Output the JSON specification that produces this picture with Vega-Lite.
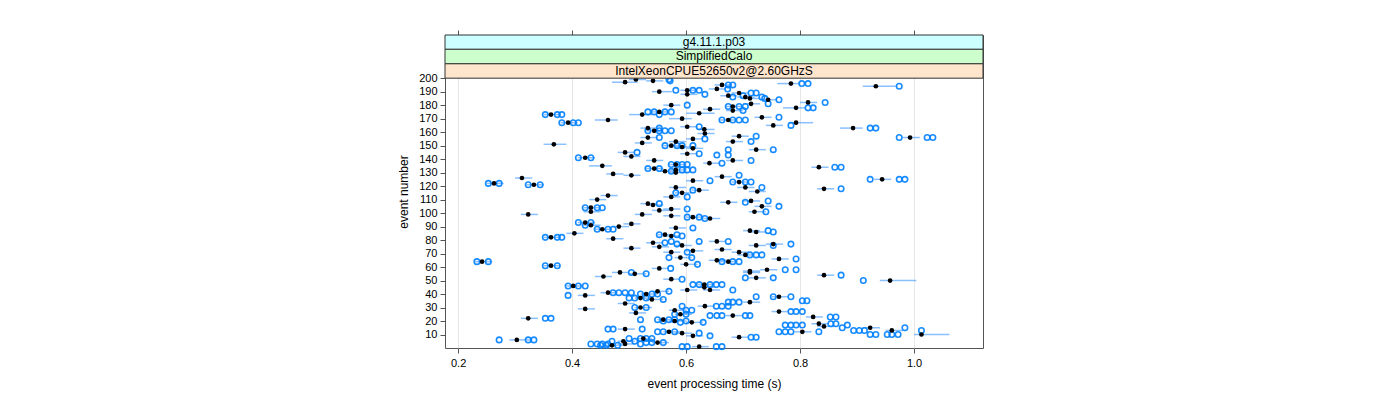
{
  "$schema": "https://vega.github.io/schema/vega-lite/v6.json",
  "autosize": "none",
  "padding": {"left": 445, "top": 35, "right": 10, "bottom": 52},
  "width": 538,
  "height": 313,
  "config": {
    "font": "Liberation Sans",
    "view": {"stroke": "#555", "strokeWidth": 1},
    "axis": {"labelFont": "Liberation Sans", "titleFont": "Liberation Sans", "labelColor": "#000", "titleColor": "#000", "titleFontWeight": "normal", "labelFontSize": 11, "titleFontSize": 12, "domain": false, "tickColor": "#555", "tickSize": 5, "labelOverlap": false}
  },
  "datasets": {
    "ev": [
      {"e":199,"m":0.512,"lo":0.5,"hi":0.53,"a":0.57},
      {"e":198,"m":0.542,"lo":0.53,"hi":0.56,"a":0.572},
      {"e":197,"m":0.493,"lo":0.47,"hi":0.515},
      {"e":196,"m":0.784,"lo":0.76,"hi":0.8,"a":0.803,"b":0.814},
      {"e":195,"m":0.663,"lo":0.65,"hi":0.68,"a":0.674,"b":0.682},
      {"e":194,"m":0.933,"lo":0.91,"hi":0.97,"a":0.974},
      {"e":192,"m":0.654,"lo":0.64,"hi":0.67,"a":0.673},
      {"e":191,"m":0.602,"lo":0.59,"hi":0.62,"a":0.582,"b":0.612,"c":0.623},
      {"e":190,"m":0.553,"lo":0.54,"hi":0.575},
      {"e":189,"m":0.693,"lo":0.68,"hi":0.71,"a":0.714,"b":0.723},
      {"e":188,"m":0.602,"lo":0.59,"hi":0.62,"a":0.633},
      {"e":187,"m":0.674,"lo":0.66,"hi":0.69,"a":0.7},
      {"e":186,"m":0.704,"lo":0.69,"hi":0.72,"a":0.682,"b":0.733},
      {"e":185,"m":0.712,"lo":0.7,"hi":0.73,"a":0.738},
      {"e":184,"m":0.744,"lo":0.73,"hi":0.76,"a":0.763},
      {"e":182,"m":0.814,"lo":0.8,"hi":0.83,"a":0.844},
      {"e":181,"m":0.714,"lo":0.7,"hi":0.73,"a":0.744},
      {"e":180,"m":0.574,"lo":0.56,"hi":0.59,"a":0.602},
      {"e":179,"m":0.682,"lo":0.67,"hi":0.7,"a":0.674,"b":0.693,"c":0.704},
      {"e":178,"m":0.793,"lo":0.77,"hi":0.81,"a":0.814,"b":0.823},
      {"e":177,"m":0.642,"lo":0.63,"hi":0.66},
      {"e":176,"m":0.682,"lo":0.67,"hi":0.7,"a":0.7},
      {"e":175,"m":0.553,"lo":0.54,"hi":0.57,"a":0.533,"b":0.544,"c":0.563,"d":0.574},
      {"e":174,"m":0.623,"lo":0.6,"hi":0.65},
      {"e":173,"m":0.523,"lo":0.5,"hi":0.54,"a":0.553},
      {"e":173,"m":0.363,"lo":0.35,"hi":0.38,"a":0.353,"b":0.374,"c":0.382},
      {"e":171,"m":0.733,"lo":0.72,"hi":0.75,"a":0.763},
      {"e":170,"m":0.593,"lo":0.57,"hi":0.61},
      {"e":169,"m":0.674,"lo":0.66,"hi":0.69,"a":0.663,"b":0.682,"c":0.693,"d":0.704},
      {"e":169,"m":0.463,"lo":0.44,"hi":0.48},
      {"e":167,"m":0.393,"lo":0.38,"hi":0.41,"a":0.382,"b":0.402,"c":0.411},
      {"e":167,"m":0.793,"lo":0.78,"hi":0.823},
      {"e":165,"m":0.753,"lo":0.74,"hi":0.77,"a":0.784},
      {"e":164,"m":0.602,"lo":0.59,"hi":0.62,"a":0.623},
      {"e":163,"m":0.893,"lo":0.87,"hi":0.91,"a":0.923,"b":0.933},
      {"e":163,"m":0.533,"lo":0.52,"hi":0.55,"a":0.553},
      {"e":162,"m":0.632,"lo":0.62,"hi":0.65},
      {"e":161,"m":0.544,"lo":0.53,"hi":0.56,"a":0.533,"b":0.553,"c":0.563,"d":0.574},
      {"e":159,"m":0.633,"lo":0.62,"hi":0.65},
      {"e":157,"m":0.693,"lo":0.68,"hi":0.71,"a":0.723},
      {"e":156,"m":0.993,"lo":0.98,"hi":1.01,"a":0.974,"b":1.023,"c":1.033},
      {"e":156,"m":0.533,"lo":0.52,"hi":0.55,"a":0.553},
      {"e":155,"m":0.612,"lo":0.6,"hi":0.63,"a":0.633},
      {"e":153,"m":0.582,"lo":0.57,"hi":0.6},
      {"e":153,"m":0.682,"lo":0.67,"hi":0.7,"a":0.714},
      {"e":152,"m":0.523,"lo":0.51,"hi":0.54},
      {"e":151,"m":0.368,"lo":0.35,"hi":0.39},
      {"e":150,"m":0.574,"lo":0.56,"hi":0.59,"a":0.563,"b":0.584,"c":0.593,"d":0.612},
      {"e":149,"m":0.593,"lo":0.58,"hi":0.61},
      {"e":148,"m":0.612,"lo":0.6,"hi":0.63},
      {"e":147,"m":0.723,"lo":0.71,"hi":0.74,"a":0.753,"b":0.674},
      {"e":145,"m":0.493,"lo":0.48,"hi":0.51,"a":0.514},
      {"e":144,"m":0.602,"lo":0.59,"hi":0.62,"a":0.623},
      {"e":143,"a":0.674,"b":0.654},
      {"e":142,"m":0.504,"lo":0.49,"hi":0.52},
      {"e":141,"m":0.423,"lo":0.41,"hi":0.44,"a":0.411,"b":0.433},
      {"e":139,"m":0.544,"lo":0.53,"hi":0.56},
      {"e":139,"m":0.682,"lo":0.67,"hi":0.7,"a":0.714},
      {"e":137,"m":0.641,"lo":0.63,"hi":0.66,"a":0.663},
      {"e":136,"m":0.582,"lo":0.57,"hi":0.6,"a":0.574,"b":0.584,"c":0.593,"d":0.602},
      {"e":135,"m":0.453,"lo":0.43,"hi":0.47},
      {"e":134,"m":0.833,"lo":0.82,"hi":0.85,"a":0.861,"b":0.872},
      {"e":133,"m":0.544,"lo":0.53,"hi":0.56,"a":0.533,"b":0.553},
      {"e":132,"m":0.582,"lo":0.57,"hi":0.6,"a":0.593,"b":0.602,"c":0.612},
      {"e":131,"m":0.563,"lo":0.55,"hi":0.58,"a":0.574},
      {"e":130,"m":0.582,"lo":0.57,"hi":0.6},
      {"e":129,"m":0.472,"lo":0.46,"hi":0.49},
      {"e":128,"m":0.504,"lo":0.49,"hi":0.52,"a":0.693},
      {"e":127,"m":0.663,"lo":0.65,"hi":0.68},
      {"e":126,"m":0.312,"lo":0.3,"hi":0.33},
      {"e":125,"m":0.944,"lo":0.93,"hi":0.96,"a":0.923,"b":0.974,"c":0.984},
      {"e":124,"m":0.612,"lo":0.6,"hi":0.63,"a":0.642},
      {"e":123,"m":0.693,"lo":0.68,"hi":0.71,"a":0.682,"b":0.704,"c":0.714},
      {"e":122,"m":0.263,"lo":0.25,"hi":0.28,"a":0.253,"b":0.272},
      {"e":121,"m":0.333,"lo":0.32,"hi":0.35,"a":0.323,"b":0.344},
      {"e":119,"m":0.582,"lo":0.57,"hi":0.6},
      {"e":119,"m":0.704,"lo":0.69,"hi":0.72,"a":0.733},
      {"e":118,"m":0.842,"lo":0.83,"hi":0.86,"a":0.872},
      {"e":117,"m":0.623,"lo":0.61,"hi":0.64,"a":0.612},
      {"e":116,"m":0.725,"lo":0.71,"hi":0.74},
      {"e":115,"m":0.593,"lo":0.58,"hi":0.61,"a":0.582},
      {"e":113,"m":0.463,"lo":0.45,"hi":0.48},
      {"e":112,"m":0.574,"lo":0.56,"hi":0.59,"a":0.602},
      {"e":110,"m":0.444,"lo":0.43,"hi":0.46},
      {"e":109,"m":0.714,"lo":0.7,"hi":0.73,"a":0.744},
      {"e":108,"m":0.674,"lo":0.66,"hi":0.69,"a":0.704},
      {"e":107,"m":0.533,"lo":0.52,"hi":0.55,"a":0.553},
      {"e":106,"m":0.542,"lo":0.53,"hi":0.56},
      {"e":105,"m":0.733,"lo":0.72,"hi":0.75,"a":0.763},
      {"e":104,"m":0.433,"lo":0.42,"hi":0.45,"a":0.423,"b":0.444,"c":0.453},
      {"e":103,"m":0.574,"lo":0.56,"hi":0.59,"a":0.602},
      {"e":102,"m":0.553,"lo":0.54,"hi":0.57},
      {"e":101,"m":0.433,"lo":0.42,"hi":0.45},
      {"e":101,"m":0.72,"lo":0.71,"hi":0.74,"a":0.74},
      {"e":99,"m":0.323,"lo":0.31,"hi":0.34},
      {"e":99,"m":0.523,"lo":0.51,"hi":0.54},
      {"e":98,"m":0.574,"lo":0.56,"hi":0.59},
      {"e":97,"m":0.612,"lo":0.6,"hi":0.63,"a":0.602,"b":0.623},
      {"e":96,"m":0.642,"lo":0.63,"hi":0.66,"a":0.633},
      {"e":93,"m":0.423,"lo":0.41,"hi":0.44,"a":0.411,"b":0.433},
      {"e":92,"m":0.504,"lo":0.49,"hi":0.52},
      {"e":91,"m":0.433,"lo":0.42,"hi":0.45,"a":0.423},
      {"e":90,"m":0.482,"lo":0.47,"hi":0.5},
      {"e":89,"m":0.582,"lo":0.57,"hi":0.6,"a":0.612},
      {"e":88,"m":0.453,"lo":0.44,"hi":0.47,"a":0.444,"b":0.463,"c":0.472},
      {"e":87,"m":0.712,"lo":0.7,"hi":0.73,"a":0.744},
      {"e":86,"m":0.723,"lo":0.71,"hi":0.74,"a":0.753},
      {"e":85,"m":0.404,"lo":0.39,"hi":0.42},
      {"e":84,"m":0.563,"lo":0.55,"hi":0.58,"a":0.553,"b":0.584},
      {"e":83,"m":0.574,"lo":0.56,"hi":0.59,"a":0.593},
      {"e":82,"m":0.363,"lo":0.35,"hi":0.38,"a":0.353,"b":0.374,"c":0.382},
      {"e":81,"m":0.472,"lo":0.46,"hi":0.49},
      {"e":79,"m":0.654,"lo":0.64,"hi":0.67,"a":0.674,"b":0.574,"c":0.623},
      {"e":78,"m":0.542,"lo":0.53,"hi":0.56,"a":0.563},
      {"e":77,"m":0.753,"lo":0.74,"hi":0.77,"a":0.784,"b":0.584},
      {"e":76,"m":0.593,"lo":0.58,"hi":0.61},
      {"e":76,"m":0.723,"lo":0.71,"hi":0.74,"a":0.753},
      {"e":75,"m":0.553,"lo":0.54,"hi":0.57},
      {"e":74,"m":0.504,"lo":0.49,"hi":0.52},
      {"e":73,"m":0.663,"lo":0.65,"hi":0.68},
      {"e":72,"m":0.612,"lo":0.6,"hi":0.63},
      {"e":71,"m":0.574,"lo":0.56,"hi":0.59,"a":0.602},
      {"e":71,"m":0.693,"lo":0.68,"hi":0.71},
      {"e":69,"m":0.704,"lo":0.69,"hi":0.72,"a":0.712,"b":0.723,"c":0.733},
      {"e":67,"m":0.59,"lo":0.58,"hi":0.61,"a":0.57,"b":0.61},
      {"e":66,"m":0.763,"lo":0.75,"hi":0.78,"a":0.793},
      {"e":65,"m":0.654,"lo":0.64,"hi":0.67},
      {"e":64,"m":0.674,"lo":0.66,"hi":0.69,"a":0.663,"b":0.682,"c":0.693},
      {"e":64,"m":0.242,"lo":0.23,"hi":0.26,"a":0.233,"b":0.253},
      {"e":62,"m":0.6,"lo":0.59,"hi":0.62,"a":0.62},
      {"e":61,"m":0.363,"lo":0.35,"hi":0.38,"a":0.353,"b":0.374},
      {"e":59,"m":0.553,"lo":0.54,"hi":0.57,"a":0.573},
      {"e":58,"m":0.742,"lo":0.73,"hi":0.76,"a":0.774,"b":0.793},
      {"e":57,"m":0.712,"lo":0.7,"hi":0.73},
      {"e":56,"m":0.712,"lo":0.7,"hi":0.73},
      {"e":56,"m":0.484,"lo":0.47,"hi":0.5,"a":0.504},
      {"e":55,"m":0.51,"lo":0.5,"hi":0.53,"a":0.53},
      {"e":54,"m":0.842,"lo":0.83,"hi":0.86,"a":0.872},
      {"e":53,"m":0.455,"lo":0.44,"hi":0.47},
      {"e":52,"m":0.723,"lo":0.71,"hi":0.74,"a":0.704,"b":0.753},
      {"e":51,"m":0.574,"lo":0.56,"hi":0.59,"a":0.593},
      {"e":50,"m":0.958,"lo":0.94,"hi":1.004,"a":0.911},
      {"e":47,"m":0.632,"lo":0.62,"hi":0.65,"a":0.612,"b":0.623,"c":0.642,"d":0.653,"f":0.663},
      {"e":46,"m":0.402,"lo":0.39,"hi":0.42,"a":0.393,"b":0.411,"c":0.423},
      {"e":45,"m":0.632,"lo":0.62,"hi":0.65},
      {"e":43,"m":0.602,"lo":0.59,"hi":0.62},
      {"e":43,"m":0.642,"lo":0.63,"hi":0.66,"a":0.682},
      {"e":42,"m":0.55,"lo":0.54,"hi":0.57,"a":0.57},
      {"e":41,"m":0.463,"lo":0.45,"hi":0.48,"a":0.472,"b":0.482,"c":0.493,"d":0.504},
      {"e":40,"m":0.53,"lo":0.52,"hi":0.55,"a":0.52,"b":0.54,"c":0.55},
      {"e":39,"m":0.423,"lo":0.41,"hi":0.44,"a":0.393},
      {"e":38,"m":0.763,"lo":0.75,"hi":0.78,"a":0.723,"b":0.753,"c":0.784},
      {"e":37,"m":0.52,"lo":0.51,"hi":0.54,"a":0.5,"b":0.51,"c":0.53},
      {"e":36,"m":0.54,"lo":0.53,"hi":0.56,"a":0.56},
      {"e":35,"a":0.804,"b":0.812},
      {"e":34,"m":0.712,"lo":0.7,"hi":0.73,"a":0.674,"b":0.682,"c":0.693},
      {"e":33,"m":0.493,"lo":0.48,"hi":0.51},
      {"e":31,"m":0.633,"lo":0.62,"hi":0.65,"a":0.653,"b":0.663,"c":0.674,"d":0.593},
      {"e":30,"m":0.52,"lo":0.51,"hi":0.54,"a":0.51,"b":0.53},
      {"e":29,"m":0.423,"lo":0.41,"hi":0.44},
      {"e":28,"m":0.58,"lo":0.57,"hi":0.6,"a":0.6,"b":0.61},
      {"e":27,"m":0.763,"lo":0.75,"hi":0.78,"a":0.784,"b":0.793,"c":0.804},
      {"e":26,"m":0.512,"lo":0.5,"hi":0.53},
      {"e":25,"m":0.59,"lo":0.58,"hi":0.61,"a":0.58,"b":0.6},
      {"e":24,"m":0.682,"lo":0.67,"hi":0.7,"a":0.642,"b":0.654,"c":0.663,"d":0.704,"f":0.712},
      {"e":23,"m":0.823,"lo":0.81,"hi":0.84,"a":0.853,"b":0.863},
      {"e":22,"m":0.323,"lo":0.31,"hi":0.34,"a":0.353,"b":0.363},
      {"e":21,"m":0.56,"lo":0.55,"hi":0.58,"a":0.52,"b":0.55,"c":0.57,"d":0.58},
      {"e":20,"m":0.58,"lo":0.57,"hi":0.6,"a":0.56,"b":0.6},
      {"e":19,"m":0.61,"lo":0.6,"hi":0.63,"a":0.59,"b":0.63},
      {"e":18,"m":0.833,"lo":0.82,"hi":0.85,"a":0.854,"b":0.863},
      {"e":17,"a":0.774,"b":0.784,"c":0.793,"d":0.804,"f":0.883},
      {"e":16,"m":0.842,"lo":0.83,"hi":0.86},
      {"e":15,"m":0.923,"lo":0.91,"hi":0.94,"a":0.874,"b":0.984},
      {"e":14,"m":0.493,"lo":0.48,"hi":0.51,"a":0.463,"b":0.472,"c":0.523},
      {"e":13,"m":0.961,"lo":0.95,"hi":0.98,"a":0.894,"b":0.904,"c":0.913,"d":1.013},
      {"e":12,"m":0.804,"lo":0.79,"hi":0.82,"a":0.763,"b":0.774,"c":0.784,"d":0.833},
      {"e":12,"m":0.57,"lo":0.56,"hi":0.59,"a":0.55,"b":0.56,"c":0.58},
      {"e":11,"m":0.593,"lo":0.58,"hi":0.61,"a":0.623},
      {"e":10,"m":1.013,"lo":1.0,"hi":1.062,"a":0.923,"b":0.933,"c":0.953,"d":0.961,"f":0.972},
      {"e":9,"m":0.612,"lo":0.6,"hi":0.63,"a":0.642},
      {"e":8,"m":0.693,"lo":0.68,"hi":0.71,"a":0.714,"b":0.723},
      {"e":7,"m":0.525,"lo":0.51,"hi":0.54,"a":0.5,"b":0.52,"c":0.53,"d":0.54},
      {"e":6,"m":0.303,"lo":0.29,"hi":0.33,"a":0.272,"b":0.323,"c":0.333},
      {"e":5,"m":0.49,"lo":0.48,"hi":0.51,"a":0.47,"b":0.51},
      {"e":4,"m":0.55,"lo":0.54,"hi":0.57,"a":0.53,"b":0.54,"c":0.56},
      {"e":3,"m":0.493,"lo":0.48,"hi":0.51,"a":0.433,"b":0.444,"c":0.453,"d":0.463,"f":0.52},
      {"e":2,"m":0.47,"lo":0.46,"hi":0.49,"a":0.45,"b":0.46,"c":0.48},
      {"e":1,"m":0.623,"lo":0.61,"hi":0.64,"a":0.593,"b":0.602,"c":0.653,"d":0.663}
    ],
    "strips": [
      {"lab": "IntelXeonCPUE52650v2@2.60GHzS", "y0": 200, "y1": 210.75},
      {"lab": "SimplifiedCalo", "y0": 210.75, "y1": 221.5},
      {"lab": "g4.11.1.p03", "y0": 221.5, "y1": 232}
    ]
  },
  "resolve": {"axis": {"x": "independent", "y": "independent"}},
  "layer": [
    {
      "data": {"name": "ev"},
      "transform": [{"filter": "isValid(datum.m)"}],
      "mark": {"type": "rule", "color": "#2b8cff", "opacity": 0.55, "strokeWidth": 1.5},
      "encoding": {
        "x": {"field": "lo", "type": "quantitative", "scale": {"domain": [0.177, 1.121], "nice": false, "zero": false},
          "axis": {"orient": "bottom", "values": [0.2, 0.4, 0.6, 0.8, 1.0], "format": ".1f", "title": "event processing time (s)", "grid": true, "gridColor": "#e6e6e6", "labelPadding": 4, "titlePadding": 10, "labelOverlap": false}},
        "x2": {"field": "hi"},
        "y": {"field": "e", "type": "quantitative", "scale": {"domain": [0, 232], "nice": false, "zero": false},
          "axis": {"orient": "left", "values": [10,20,30,40,50,60,70,80,90,100,110,120,130,140,150,160,170,180,190,200], "tickCount": 30, "title": "event number", "grid": false, "labelPadding": 3, "titlePadding": 8, "labelOverlap": false, "labelBound": false, "labelSeparation": 0}}
      }
    },
    {
      "data": {"name": "ev"},
      "transform": [
        {"fold": ["a", "b", "c", "d", "f"], "as": ["k", "t"]},
        {"filter": "isValid(datum.t)"}
      ],
      "mark": {"type": "point", "shape": "circle", "filled": false, "color": "#0080ff", "size": 30, "strokeWidth": 1.6, "opacity": 0.9},
      "encoding": {
        "x": {"field": "t", "type": "quantitative",
          "axis": {"orient": "top", "values": [0.2, 0.4, 0.6, 0.8, 1.0], "labels": false, "title": null, "grid": false, "ticks": true, "tickSize": 5}},
        "y": {"field": "e", "type": "quantitative", "axis": null}
      }
    },
    {
      "data": {"name": "ev"},
      "transform": [{"filter": "isValid(datum.m)"}],
      "mark": {"type": "circle", "color": "#000", "size": 22, "opacity": 1},
      "encoding": {
        "x": {"field": "m", "type": "quantitative", "axis": null},
        "y": {"field": "e", "type": "quantitative", "axis": null}
      }
    },
    {
      "data": {"name": "strips"},
      "mark": {"type": "rect", "stroke": "#333", "strokeWidth": 1},
      "encoding": {
        "x": {"datum": 0.177, "type": "quantitative", "axis": null},
        "x2": {"datum": 1.121},
        "y": {"field": "y0", "type": "quantitative", "axis": null},
        "y2": {"field": "y1"},
        "fill": {"field": "lab", "type": "nominal", "legend": null,
          "scale": {"domain": ["IntelXeonCPUE52650v2@2.60GHzS", "SimplifiedCalo", "g4.11.1.p03"], "range": ["#ffe5cc", "#ccffcc", "#ccffff"]}}
      }
    },
    {
      "data": {"name": "strips"},
      "transform": [{"calculate": "(datum.y0 + datum.y1) / 2", "as": "ym"}],
      "mark": {"type": "text", "fontSize": 12, "font": "Liberation Sans", "color": "#000", "baseline": "middle", "align": "center"},
      "encoding": {
        "x": {"datum": 0.649, "type": "quantitative", "axis": null},
        "y": {"field": "ym", "type": "quantitative", "axis": null},
        "text": {"field": "lab"}
      }
    }
  ]
}
